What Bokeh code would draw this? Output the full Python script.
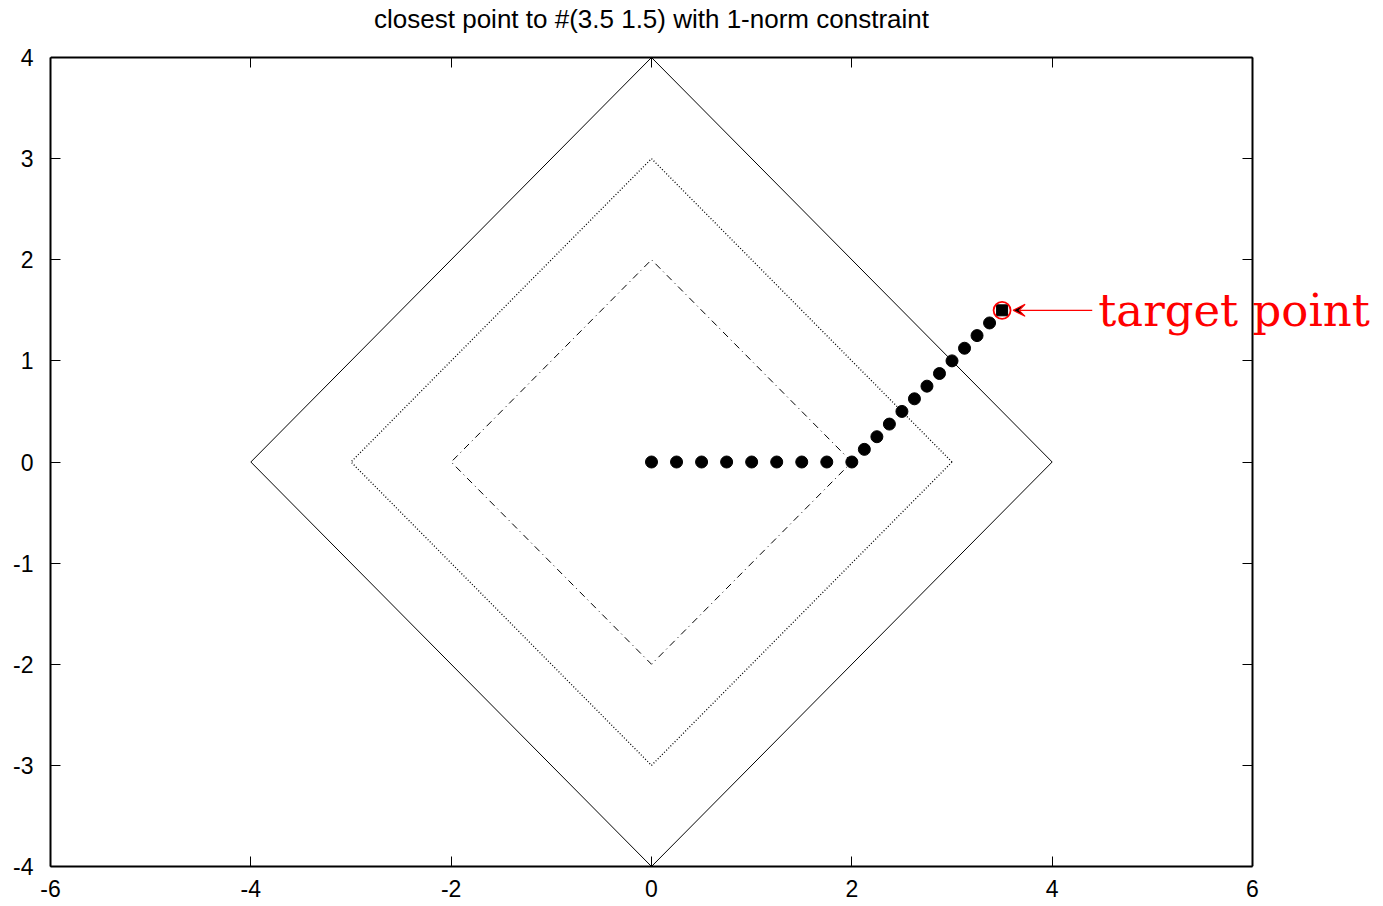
from bokeh.plotting import figure
from bokeh.models import Range1d, FixedTicker, LinearAxis, Label, Arrow, VeeHead
from bokeh.embed import file_html
from bokeh.resources import INLINE

# ---- data ----
title_text = "closest point to #(3.5 1.5) with 1-norm constraint"
x_ticks = [-6, -4, -2, 0, 2, 4, 6]
y_ticks = [-4, -3, -2, -1, 0, 1, 2, 3, 4]
x_min, x_max = -6, 6
y_min, y_max = -4, 4

# 1-norm balls |x|+|y| = r
ball4_x = [4, 0, -4, 0, 4]
ball4_y = [0, 4, 0, -4, 0]
ball3_x = [3, 0, -3, 0, 3]
ball3_y = [0, 3, 0, -3, 0]
ball2_x = [2, 0, -2, 0, 2]
ball2_y = [0, 2, 0, -2, 0]

# iterates
path_x = [0, 0.25, 0.5, 0.75, 1.0, 1.25, 1.5, 1.75, 2.0,
          2.125, 2.25, 2.375, 2.5, 2.625, 2.75, 2.875, 3.0, 3.125, 3.25, 3.375]
path_y = [0, 0, 0, 0, 0, 0, 0, 0, 0,
          0.125, 0.25, 0.375, 0.5, 0.625, 0.75, 0.875, 1.0, 1.125, 1.25, 1.375]

final_x = [3.5]
final_y = [1.5]
target_x = [3.5]
target_y = [1.5]
target_label = "target point"

FONT = "Liberation Sans"
W, H = 1383, 906
LEFT, BOTTOM = 50, 40
FRAME_TOP = 0          # top border of the frame (pixels)
PLOT_RIGHT_PX = 1252   # pixel of x = 6
PLOT_TOP_PX = 57       # pixel of y = 4
PLOT_BOTTOM_PX = H - BOTTOM  # pixel of y = -4
TITLE_PX = 18
px_per_x = (PLOT_RIGHT_PX - LEFT) / (x_max - x_min)
px_per_y = (PLOT_BOTTOM_PX - PLOT_TOP_PX) / (y_max - y_min)
x_view_max = x_max + (W - PLOT_RIGHT_PX) / px_per_x
y_view_max = y_max + (PLOT_TOP_PX - FRAME_TOP) / px_per_y
title_y = y_max + (PLOT_TOP_PX - TITLE_PX) / px_per_y

p = figure(width=W, height=H, output_backend="svg", toolbar_location=None,
           x_range=Range1d(x_min, x_view_max), y_range=Range1d(y_min, y_view_max),
           min_border_left=LEFT, min_border_right=0, min_border_top=FRAME_TOP,
           min_border_bottom=BOTTOM,
           x_axis_location=None, y_axis_location=None)
p.grid.visible = False
p.outline_line_color = None
p.background_fill_color = "white"


def make_axis(ticks, show_labels, **kw):
    ax = LinearAxis(ticker=FixedTicker(ticks=ticks), **kw)
    ax.axis_line_color = "black"
    ax.axis_line_width = 2
    ax.major_tick_in = 10
    ax.major_tick_out = 0
    ax.major_tick_line_color = "black"
    ax.major_tick_line_width = 1
    ax.minor_tick_line_color = None
    ax.major_label_text_font = FONT
    ax.major_label_text_color = "black"
    if show_labels:
        ax.major_label_text_font_size = "23px"
        ax.major_label_overrides = {t: str(t) for t in ticks}
    else:
        ax.major_label_text_font_size = "0px"
        ax.major_label_standoff = 0
        ax.major_label_overrides = {t: "" for t in ticks}
    return ax


bx = make_axis(x_ticks, True, bounds=(x_min, x_max))
bx.major_label_standoff = 13
ly = make_axis(y_ticks, True, bounds=(y_min, y_max))
ly.major_label_standoff = 17
tx = make_axis(x_ticks, False, bounds=(x_min, x_max), fixed_location=y_max)
ry = make_axis(y_ticks, False, bounds=(y_min, y_max), fixed_location=x_max)
ry.major_tick_in = 0
ry.major_tick_out = 10
p.add_layout(bx, "below")
p.add_layout(ly, "left")
p.add_layout(tx, "above")
p.add_layout(ry, "left")

p.line(ball4_x, ball4_y, line_color="black", line_width=1)
p.line(ball3_x, ball3_y, line_color="black", line_width=1.3, line_dash="1 2")
p.line(ball2_x, ball2_y, line_color="black", line_width=1, line_dash="7 4 1 4")

p.scatter(path_x, path_y, marker="circle", size=12, fill_color="black", line_color="black")
p.scatter(final_x, final_y, marker="square", size=11, fill_color="black", line_color="black")
p.scatter(target_x, target_y, marker="circle", size=17, fill_color=None, line_color="red", line_width=1.8)

p.add_layout(Arrow(end=VeeHead(size=12, line_color="red", line_width=1.2),
                   x_start=4.40, y_start=1.5, x_end=3.61, y_end=1.5,
                   line_color="red", line_width=1.2))
p.add_layout(Label(x=4.46, y=1.5, text=target_label, text_color="red",
                   text_font="DejaVu Serif", text_font_size="45px",
                   text_baseline="middle", text_align="left"))
p.add_layout(Label(x=(x_min + x_max) / 2, y=title_y, text=title_text, text_color="black",
                   text_font=FONT, text_font_size="26px",
                   text_baseline="middle", text_align="center"))

open("out.html", "w").write(file_html(p, INLINE))
